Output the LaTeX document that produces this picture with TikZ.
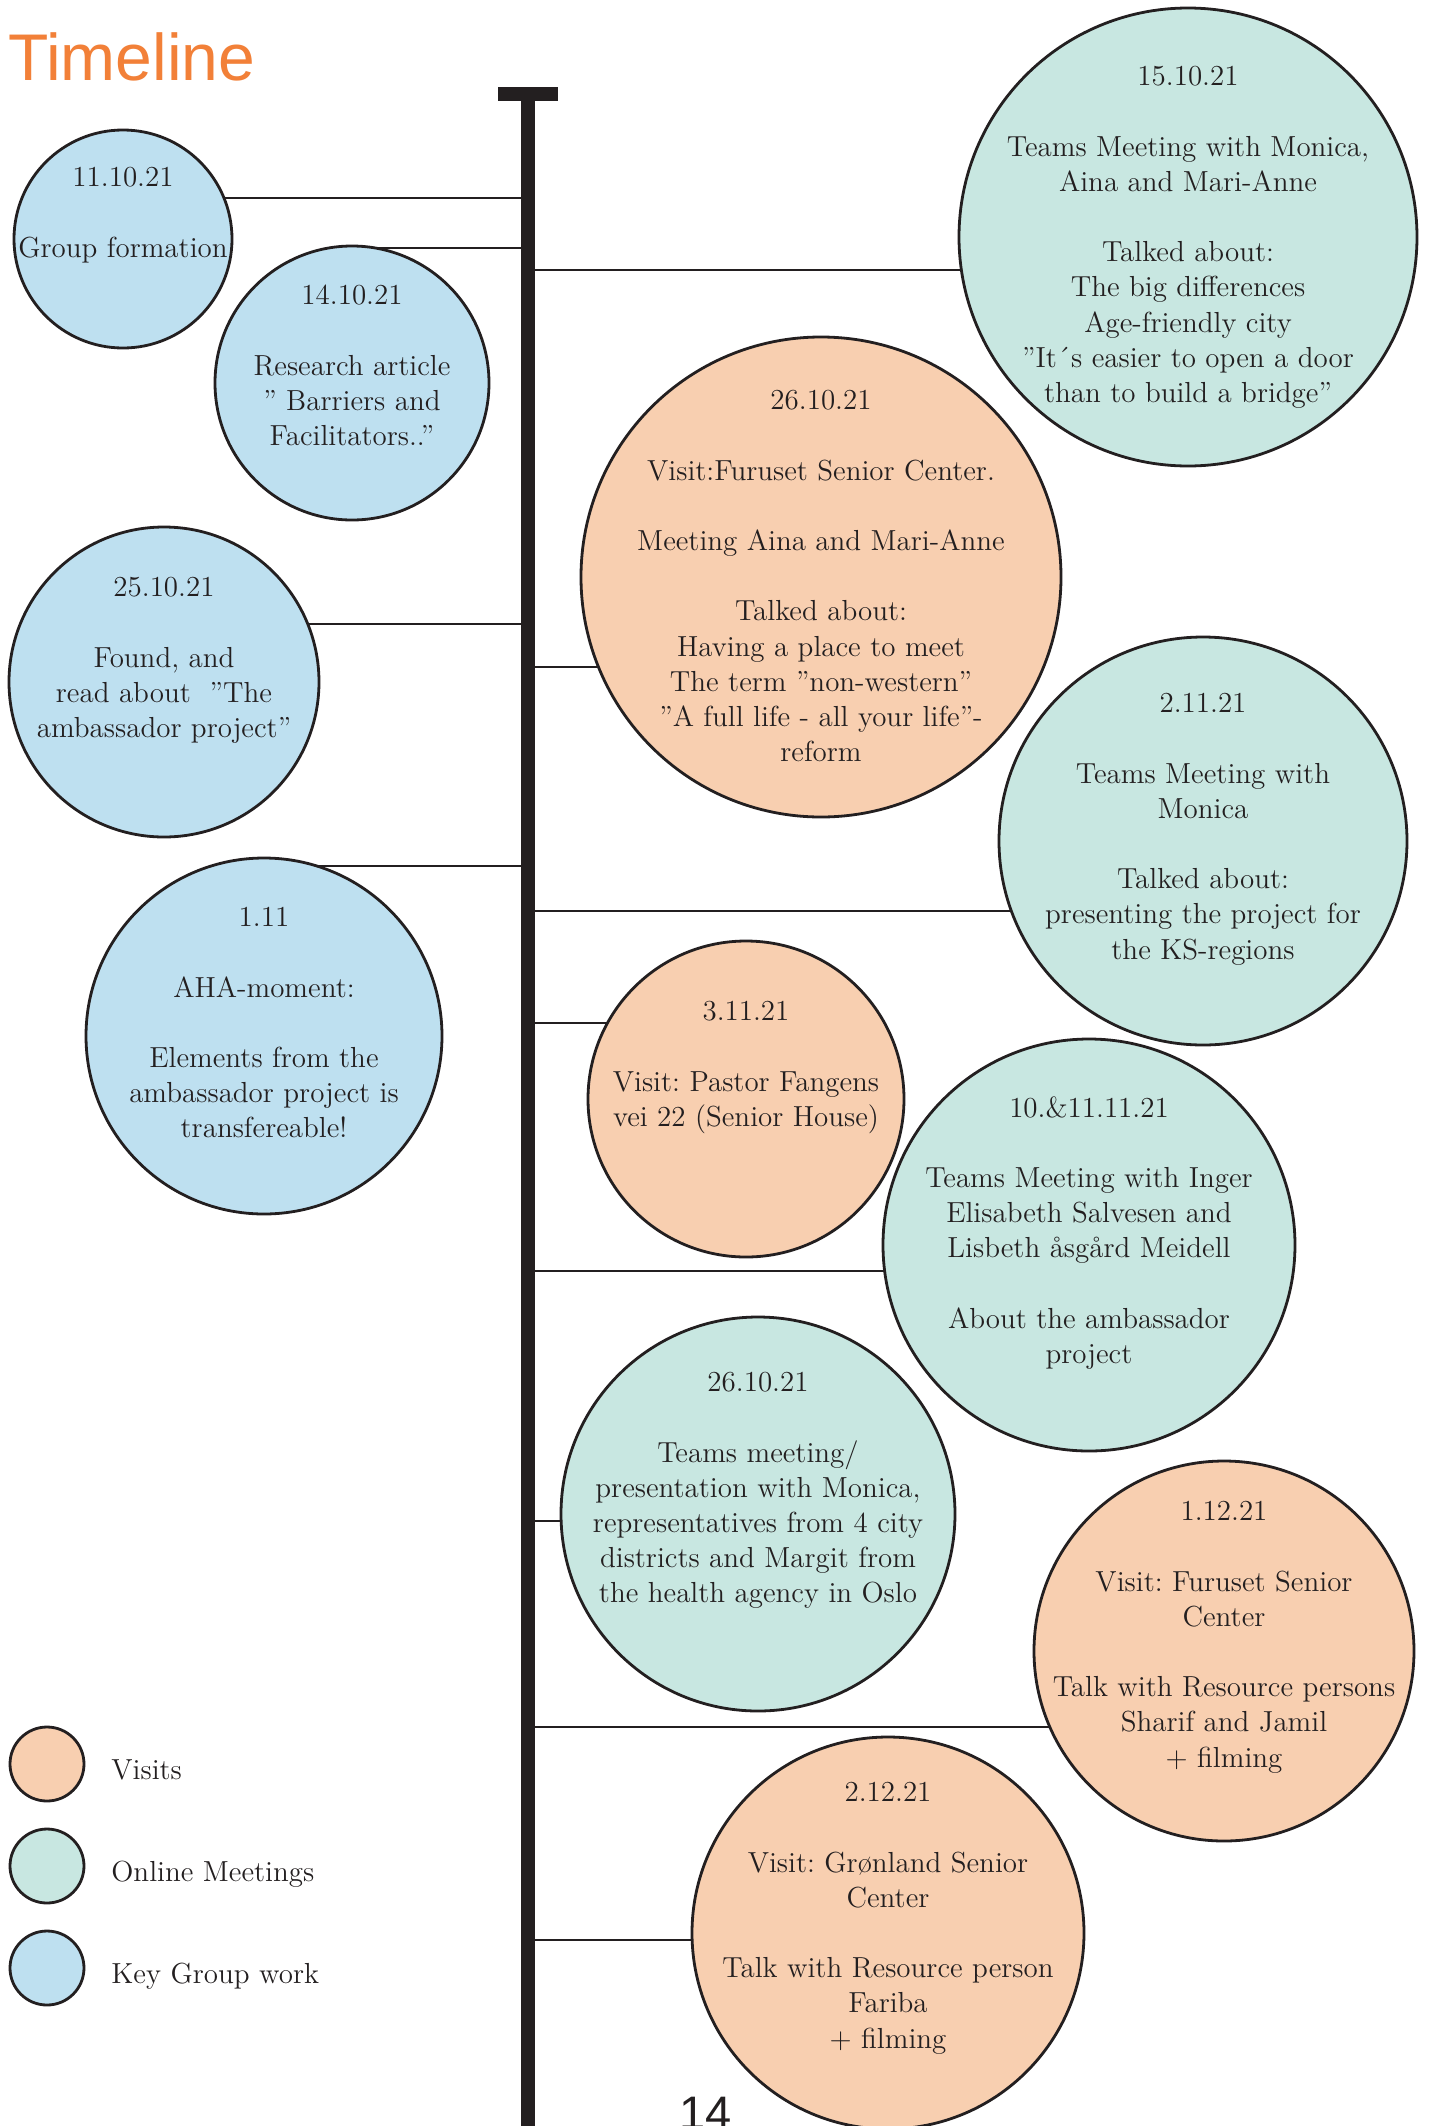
\documentclass[tikz,border=0pt]{standalone}
\usepackage{fontspec}
\newfontfamily\headfont{Liberation Sans}
\usetikzlibrary{backgrounds}
\frenchspacing
\definecolor{ink}{HTML}{231F20}
\definecolor{visitfill}{RGB}{248,207,176}
\definecolor{onlinefill}{RGB}{200,231,225}
\definecolor{groupfill}{RGB}{190,224,240}
\definecolor{titleorange}{RGB}{242,128,56}
\tikzset{
  bubble/.style={circle, draw=ink, line width=1.4pt, inner sep=0pt},
  visit/.style={bubble, fill=visitfill},
  online/.style={bubble, fill=onlinefill},
  keygroup/.style={bubble, fill=groupfill},
  txt/.style={anchor=north, inner sep=0pt, align=center, text=ink,
              font=\fontsize{14.5}{17.6}\selectfont\frenchspacing},
  legendtxt/.style={anchor=base west, inner sep=0pt, text=ink,
              font=\fontsize{14.5}{17.6}\selectfont},
  conn/.style={draw=ink, line width=1.1pt},
}
\begin{document}
\begin{tikzpicture}[x=0.5pt, y=-0.5pt]
\useasboundingbox (0,0) rectangle (1430,2126);
\begin{pgfonlayer}{background}
  \fill[white] (0,0) rectangle (1430,2126);
\end{pgfonlayer}

% heading
\node[anchor=base west, inner sep=0pt, text=titleorange,
      font=\headfont\fontsize{33}{36}\selectfont] (title) at (8,80) {Timeline};

% timeline spine with its top cap
\fill[ink] (521,95) rectangle (535,2140);
\fill[ink] (498,87) rectangle (558,101);

% anchor points on the spine
\coordinate (k1)  at (528,198);
\coordinate (k2)  at (528,248);
\coordinate (k3)  at (528,270);
\coordinate (k4)  at (528,667);
\coordinate (k5)  at (528,624);
\coordinate (k6)  at (528,911);
\coordinate (k7)  at (528,866);
\coordinate (k8)  at (528,1023);
\coordinate (k9)  at (528,1271);
\coordinate (k10) at (528,1521);
\coordinate (k11) at (528,1727);
\coordinate (k12) at (528,1940);

% events
\node[keygroup, minimum size=109pt] (c1)  at (123,239)  {};
\node[keygroup, minimum size=137pt] (c2)  at (352,383)  {};
\node[online,   minimum size=229pt] (c3)  at (1188,237) {};
\node[visit,    minimum size=240pt] (c4)  at (821,577)  {};
\node[keygroup, minimum size=155pt] (c5)  at (164,682)  {};
\node[online,   minimum size=204pt] (c6)  at (1203,841) {};
\node[keygroup, minimum size=178pt] (c7)  at (264,1036) {};
\node[visit,    minimum size=158pt] (c8)  at (746,1099) {};
\node[online,   minimum size=206pt] (c9)  at (1089,1245) {};
\node[online,   minimum size=197pt] (c10) at (758,1514) {};
\node[visit,    minimum size=190pt] (c11) at (1224,1651) {};
\node[visit,    minimum size=196pt] (c12) at (888,1933) {};

\node[txt] (t1) at (123,167) {11.10.21\\[17.6pt]Group formation};
\node[txt] (t2) at (352,285) {14.10.21\\[17.6pt]Research article\\” Barriers and\\Facilitators..”};
\node[txt] (t3) at (1188,66) {15.10.21\\[17.6pt]Teams Meeting with Monica,\\Aina and Mari-Anne\\[17.6pt]Talked about:\\The big differences\\Age-friendly city\\”It´s easier to open a door\\than to build a bridge”};
\node[txt] (t4) at (821,390) {26.10.21\\[17.6pt]Visit:Furuset Senior Center.\\[17.6pt]Meeting Aina and Mari-Anne\\[17.6pt]Talked about:\\Having a place to meet\\The term ”non-western”\\”A full life - all your life”-\\reform};
\node[txt] (t5) at (164,577) {25.10.21\\[17.6pt]Found, and\\read about\ \ ”The\\ambassador project”};
\node[txt] (t6) at (1203,693) {2.11.21\\[17.6pt]Teams Meeting with\\Monica\\[17.6pt]Talked about:\\presenting the project for\\the KS-regions};
\node[txt] (t7) at (264,907) {1.11\\[17.6pt]AHA-moment:\\[17.6pt]Elements from the\\ambassador project is\\transfereable!};
\node[txt] (t8) at (746,1001) {3.11.21\\[17.6pt]Visit: Pastor Fangens\\vei 22 (Senior House)};
\node[txt] (t9) at (1089,1096) {10.\&11.11.21\\[17.6pt]Teams Meeting with Inger\\Elisabeth Salvesen and\\Lisbeth åsgård Meidell\\[17.6pt]About the ambassador\\project};
\node[txt] (t10) at (758,1372) {26.10.21\\[17.6pt]Teams meeting/\\presentation with Monica,\\representatives from 4 city\\districts and Margit from\\the health agency in Oslo};
\node[txt] (t11) at (1224,1501) {1.12.21\\[17.6pt]Visit: Furuset Senior\\Center\\[17.6pt]Talk with Resource persons\\Sharif and Jamil\\+ filming};
\node[txt] (t12) at (888,1782) {2.12.21\\[17.6pt]Visit: Grønland Senior\\Center\\[17.6pt]Talk with Resource person\\Fariba\\+ filming};

% connectors from the spine to each event, kept behind the bubbles
\begin{pgfonlayer}{background}
  \foreach \i in {1,...,12}
    \draw[conn] (k\i) -- (k\i -| c\i.center);
\end{pgfonlayer}

% legend
\node[visit,    minimum size=37pt] (l1) at (47,1764) {};
\node[online,   minimum size=37pt] (l2) at (47,1866) {};
\node[keygroup, minimum size=37pt] (l3) at (47,1968) {};
\node[legendtxt] (lt1) at (111,1779) {Visits};
\node[legendtxt] (lt2) at (111,1881) {Online Meetings};
\node[legendtxt] (lt3) at (111,1983) {Key Group work};

% page number
\node[anchor=base west, inner sep=0pt, text=ink,
      font=\headfont\fontsize{23.5}{26}\selectfont] (page) at (679,2129) {14};
\end{tikzpicture}
\end{document}
